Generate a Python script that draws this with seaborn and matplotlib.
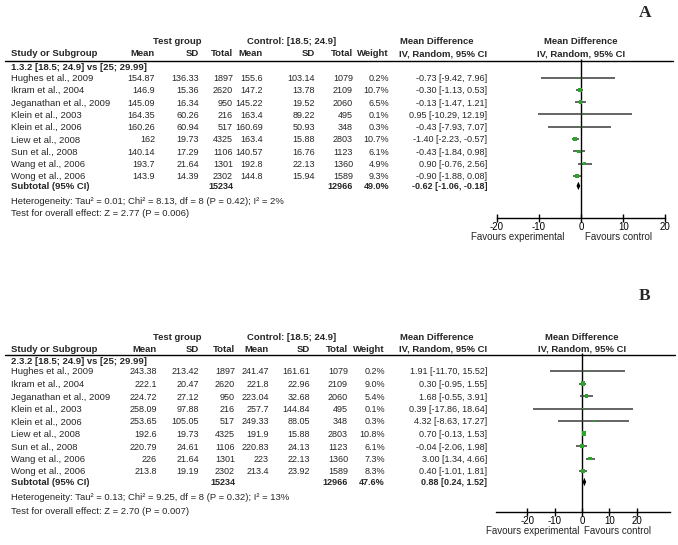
import numpy as np
import pandas as pd
import matplotlib
matplotlib.use("Agg")
import matplotlib.pyplot as plt
import seaborn as sns

# ---------------- data ----------------
studies = ["Hughes et al., 2009", "Ikram et al., 2004", "Jeganathan et al., 2009",
           "Klein et al., 2003", "Klein et al., 2006", "Liew et al., 2008",
           "Sun et al., 2008", "Wang et al., 2006", "Wong et al., 2006"]
test_n = [1897, 2620, 950, 216, 517, 4325, 1106, 1301, 2302]
ctrl_n = [1079, 2109, 2060, 495, 348, 2803, 1123, 1360, 1589]
test_total = 15234
ctrl_total = 12966

# Panel A
a_subgroup = "1.3.2 [18.5; 24.9] vs [25; 29.99]"
a_test_mean = [154.87, 146.9, 145.09, 164.35, 160.26, 162, 140.14, 193.7, 143.9]
a_test_sd = [136.33, 15.36, 16.34, 60.26, 60.94, 19.73, 17.29, 21.64, 14.39]
a_ctrl_mean = [155.6, 147.2, 145.22, 163.4, 160.69, 163.4, 140.57, 192.8, 144.8]
a_ctrl_sd = [103.14, 13.78, 19.52, 89.22, 50.93, 15.88, 16.76, 22.13, 15.94]
a_weight = [0.2, 10.7, 6.5, 0.1, 0.3, 10.7, 6.1, 4.9, 9.3]
a_md = [-0.73, -0.30, -0.13, 0.95, -0.43, -1.40, -0.43, 0.90, -0.90]
a_lo = [-9.42, -1.13, -1.47, -10.29, -7.93, -2.23, -1.84, -0.76, -1.88]
a_hi = [7.96, 0.53, 1.21, 12.19, 7.07, -0.57, 0.98, 2.56, 0.08]
a_sum = (49.0, -0.62, -1.06, -0.18)
a_het = "Heterogeneity: Tau\u00b2 = 0.01; Chi\u00b2 = 8.13, df = 8 (P = 0.42); I\u00b2 = 2%"
a_eff = "Test for overall effect: Z = 2.77 (P = 0.006)"
a_ticks = [-20, -10, 0, 10, 20]

# Panel B
b_subgroup = "2.3.2 [18.5; 24.9] vs [25; 29.99]"
b_test_mean = [243.38, 222.1, 224.72, 258.09, 253.65, 192.6, 220.79, 226, 213.8]
b_test_sd = [213.42, 20.47, 27.12, 97.88, 105.05, 19.73, 24.61, 21.64, 19.19]
b_ctrl_mean = [241.47, 221.8, 223.04, 257.7, 249.33, 191.9, 220.83, 223, 213.4]
b_ctrl_sd = [161.61, 22.96, 32.68, 144.84, 88.05, 15.88, 24.13, 22.13, 23.92]
b_weight = [0.2, 9.0, 5.4, 0.1, 0.3, 10.8, 6.1, 7.3, 8.3]
b_md = [1.91, 0.30, 1.68, 0.39, 4.32, 0.70, -0.04, 3.00, 0.40]
b_lo = [-11.70, -0.95, -0.55, -17.86, -8.63, -0.13, -2.06, 1.34, -1.01]
b_hi = [15.52, 1.55, 3.91, 18.64, 17.27, 1.53, 1.98, 4.66, 1.81]
b_sum = (47.6, 0.88, 0.24, 1.52)
b_het = "Heterogeneity: Tau\u00b2 = 0.13; Chi\u00b2 = 9.25, df = 8 (P = 0.32); I\u00b2 = 13%"
b_eff = "Test for overall effect: Z = 2.70 (P = 0.007)"
b_ticks = [-20, -10, 0, 10, 20]

# ---------------- style ----------------
sns.set_style("white")
plt.rcParams["font.family"] = ["Liberation Sans", "DejaVu Sans"]

W, H = 678, 545
fig = plt.figure(figsize=(W / 100, H / 100), dpi=100)
tx = fig.add_axes([0, 0, 1, 1])
tx.set_xlim(0, W)
tx.set_ylim(H, 0)
tx.axis("off")

FS = 6.8     # labels
FN = 6.5     # numbers
GREEN = "#2aa52a"
LINEC = "#3a3a3a"


def fmt(v):
    return f"{v:g}"


def panel(layout, sub, tmean, tsd, cmean, csd, weight, md, lo, hi, summ, het, eff, ticks, letter):
    L = layout
    y_top = L["top"]
    tx.text(177, y_top, "Test group", ha="center", va="center", fontsize=FS, fontweight="bold")
    tx.text(292, y_top, "Control: [18.5; 24.9]", ha="center", va="center", fontsize=FS, fontweight="bold")
    tx.text(437, y_top, "Mean Difference", ha="center", va="center", fontsize=FS, fontweight="bold")
    tx.text(L["zero"], y_top, "Mean Difference", ha="center", va="center", fontsize=FS, fontweight="bold")
    yh = L["hdr"]
    cols = L["cols"]
    tx.text(11, yh, "Study or Subgroup", ha="left", va="center", fontsize=FS, fontweight="bold")
    for lab, xr in zip(["Mean", "SD", "Total", "Mean", "SD", "Total", "Weight"], cols):
        tx.text(xr, yh, lab, ha="right", va="center", fontsize=FS, fontweight="bold")
    tx.text(443, yh, "IV, Random, 95% CI", ha="center", va="center", fontsize=FS, fontweight="bold")
    tx.text(L["zero"], yh, "IV, Random, 95% CI", ha="center", va="center", fontsize=FS, fontweight="bold")
    tx.plot([5, L["line_end"]], [L["line"], L["line"]], color="black", lw=1.0)
    tx.text(11, L["sub"], sub, ha="left", va="center", fontsize=FS, fontweight="bold")

    n = len(studies)
    rows = [L["row0"] + i * L["step"] for i in range(n)]
    ysum = rows[-1] + L["sumgap"]
    for i in range(n):
        y = rows[i] + 1.0
        vals = [fmt(tmean[i]), fmt(tsd[i]), str(test_n[i]), fmt(cmean[i]), fmt(csd[i]),
                str(ctrl_n[i]), f"{weight[i]:.1f}%"]
        tx.text(11, y, studies[i], ha="left", va="center", fontsize=FS)
        for v, xr in zip(vals, cols):
            tx.text(xr, y, v, ha="right", va="center", fontsize=FN)
        tx.text(487, y, f"{md[i]:.2f} [{lo[i]:.2f}, {hi[i]:.2f}]", ha="right", va="center", fontsize=FN)
    y = ysum + 0.5
    tx.text(11, y, "Subtotal (95% CI)", ha="left", va="center", fontsize=FS, fontweight="bold")
    tx.text(cols[2], y, str(test_total), ha="right", va="center", fontsize=FN, fontweight="bold")
    tx.text(cols[5], y, str(ctrl_total), ha="right", va="center", fontsize=FN, fontweight="bold")
    tx.text(cols[6], y, f"{summ[0]:.1f}%", ha="right", va="center", fontsize=FN, fontweight="bold")
    tx.text(487, y, f"{summ[1]:.2f} [{summ[2]:.2f}, {summ[3]:.2f}]", ha="right", va="center",
            fontsize=FN, fontweight="bold")
    tx.text(11, L["het"], het, ha="left", va="center", fontsize=FS)
    tx.text(11, L["eff"], eff, ha="left", va="center", fontsize=FS)
    tx.text(645, L["letter"], letter, ha="center", va="center", fontsize=12.5, fontweight="bold",
            family=["Liberation Serif", "DejaVu Serif"])

    # forest axes
    px_l, px_r, px_t, px_b = 468, 678, L["top"] - 12, L["axis"] + 30
    ax = fig.add_axes([px_l / W, 1 - px_b / H, (px_r - px_l) / W, (px_b - px_t) / H])
    sc = L["scale"]
    ax.set_xlim((px_l - L["zero"]) / sc, (px_r - L["zero"]) / sc)
    ax.set_ylim(px_b, px_t)
    ax.patch.set_alpha(0)
    for s in ["top", "left", "right"]:
        ax.spines[s].set_visible(False)
    ax.spines["bottom"].set_position(("data", L["axis"]))
    ax.spines["bottom"].set_bounds(*L["axis_bounds"])
    ax.spines["bottom"].set_color("black")
    ax.spines["bottom"].set_linewidth(1.0)
    ax.set_xticks(ticks)
    ax.set_xticklabels([str(t) for t in ticks])
    ax.tick_params(axis="x", direction="inout", length=6, width=1, pad=0, labelsize=7.0,
                   bottom=True, colors="black")
    ax.set_yticks([])
    ax.grid(False)
    ax.vlines(0, L["line"] - 2, L["axis"], color="black", lw=1.0)

    df = pd.DataFrame({"md": md, "lo": lo, "hi": hi, "w": weight, "y": rows})
    ax.hlines(df["y"], df["lo"], df["hi"], color=LINEC, lw=1.1, zorder=2)
    sns.scatterplot(data=df, x="md", y="y", size="w", sizes=(1.0, 10), marker="s",
                    color=GREEN, edgecolor="none", legend=False, ax=ax, zorder=3)
    ax.set_xlabel("")
    ax.set_ylabel("")
    dh = 4.2
    ax.fill([summ[2], summ[1], summ[3], summ[1]], [ysum, ysum - dh, ysum, ysum + dh],
            color="black", lw=0, zorder=4)
    ax.text(L["fav_l"], L["fav"], "Favours experimental", ha="center", va="center", fontsize=7.0)
    ax.text(L["fav_r"], L["fav"], "Favours control", ha="center", va="center", fontsize=7.0)
    return ax


A = dict(top=41, hdr=54, line=61, line_end=673, sub=67, row0=77.5, step=12.3, sumgap=10,
         het=202, eff=214, letter=13, zero=581, scale=4.22, axis=218, axis_bounds=(-20, 20),
         cols=[155, 199, 233, 263, 315, 353, 389], fav=237, fav_l=-15, fav_r=9)
B = dict(top=337, hdr=349, line=355, line_end=675, sub=361, row0=371, step=12.5, sumgap=11,
         het=498, eff=512, letter=296, zero=582, scale=2.74, axis=512, axis_bounds=(-31.5, 32),
         cols=[157, 199, 235, 269, 310, 348, 385], fav=531, fav_l=-18, fav_r=13)

axA = panel(A, a_subgroup, a_test_mean, a_test_sd, a_ctrl_mean, a_ctrl_sd, a_weight, a_md, a_lo,
            a_hi, a_sum, a_het, a_eff, a_ticks, "A")
axB = panel(B, b_subgroup, b_test_mean, b_test_sd, b_ctrl_mean, b_ctrl_sd, b_weight, b_md, b_lo,
            b_hi, b_sum, b_het, b_eff, b_ticks, "B")

fig.savefig("out.png", dpi=100, facecolor="white")
